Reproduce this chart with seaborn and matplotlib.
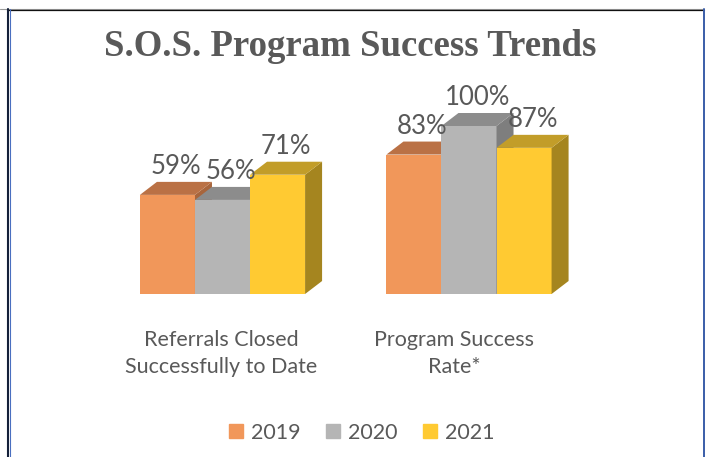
import matplotlib
matplotlib.use("Agg")
import matplotlib.pyplot as plt
import matplotlib.transforms as mtransforms
import seaborn as sns
import pandas as pd
from matplotlib.patches import Polygon
from matplotlib.lines import Line2D

categories = ["Referrals Closed\nSuccessfully to Date", "Program Success\nRate*"]
years = ["2019", "2020", "2021"]
rate_2019 = [0.59, 0.83]
rate_2020 = [0.56, 1.00]
rate_2021 = [0.71, 0.87]

front_colors = ["#F1975A", "#B5B5B5", "#FFCA32"]
top_colors = ["#BA7145", "#8C8C8C", "#C29D29"]
side_colors = ["#A8653C", "#7E7E7E", "#A5851F"]
text_gray = "#595959"

df = pd.DataFrame({
    "category": categories * 3,
    "year": [y for y in years for _ in categories],
    "rate": rate_2019 + rate_2020 + rate_2021,
})

sns.set_theme(style="white")
plt.rcParams["font.family"] = ["Lato", "DejaVu Sans"]

W, H = 710, 457
fig = plt.figure(figsize=(W / 100, H / 100), dpi=100)
fig.patch.set_facecolor("white")

# axes placed so that 0% sits at y=294px and 100% at y=126px
ax = fig.add_axes([99.25 / W, (H - 294) / H, 493 / W, 1.2 * 168 / H])
sns.barplot(data=df, x="category", y="rate", hue="year", palette=front_colors,
            width=0.67, saturation=1, linewidth=0, ax=ax, legend=False)
ax.set_xlim(-0.5, 1.5)
ax.set_ylim(0, 1.2)
ax.set_yticks([])
ax.set_xlabel("")
ax.set_ylabel("")
sns.despine(ax=ax, left=True, bottom=True)
ax.tick_params(axis="x", length=0, pad=26, labelsize=15.5, labelcolor=text_gray)
for lbl, shift in zip(ax.get_xticklabels(), [-1, -15]):
    lbl.set_linespacing(1.45)
    lbl.set_transform(lbl.get_transform() +
                      mtransforms.ScaledTranslation(shift / 100, 0, fig.dpi_scale_trans))

# fake 3D depth, in data units
dx = 17 / 246.5
dy = 13 / 168

for i, cont in enumerate(ax.containers):
    for bar in cont:
        x0, w, h = bar.get_x(), bar.get_width(), bar.get_height()
        bar.set_zorder(3 + i)
        side = Polygon([(x0 + w, 0), (x0 + w, h), (x0 + w + dx, h + dy), (x0 + w + dx, dy)],
                       closed=True, facecolor=side_colors[i], edgecolor="none", zorder=3 + i)
        top = Polygon([(x0, h), (x0 + dx, h + dy), (x0 + w + dx, h + dy), (x0 + w, h)],
                      closed=True, facecolor=top_colors[i], edgecolor="none", zorder=3 + i)
        ax.add_patch(side)
        ax.add_patch(top)
        ax.text(x0 + w / 2 + dx / 2, h + dy + 0.015, f"{h:.0%}", ha="center", va="bottom",
                fontsize=18.5, color=text_gray, zorder=10)

handles = [Line2D([], [], marker="s", linestyle="none", markersize=10,
                  markerfacecolor=c, markeredgecolor=c) for c in front_colors]
fig.legend(handles, years, loc="center", bbox_to_anchor=(361 / W, 1 - 433 / H), ncol=3,
           frameon=False, fontsize=15.5, labelcolor=text_gray, handlelength=0.8,
           handletextpad=0.3, columnspacing=1.1)

fig.text(0.493, 1 - 47 / H, "S.O.S. Program Success Trends", ha="center", va="center",
         fontsize=26.5, fontweight="bold", family="Liberation Serif", color=text_gray)

# chart frame
fig.add_artist(Line2D([0, 704 / W], [1 - 8.5 / H] * 2, color="#9A9A9A", lw=0.8))
fig.add_artist(Line2D([7 / W, 704 / W], [1 - 9.5 / H] * 2, color="#111111", lw=0.9))
fig.add_artist(Line2D([8 / W] * 2, [0, 1 - 9 / H], color="#15213A", lw=1.5))
fig.add_artist(Line2D([9.5 / W] * 2, [0, 1 - 9 / H], color="#4A6FC0", lw=0.8))
fig.add_artist(Line2D([703.5 / W] * 2, [0, 1 - 9 / H], color="#3A5DA8", lw=1.4))

fig.savefig("out.png", dpi=100)
